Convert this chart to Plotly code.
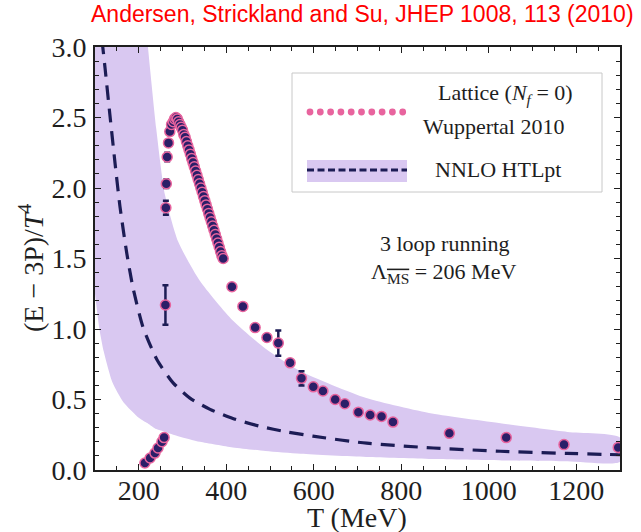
import plotly.graph_objects as go

# ---------------- data ----------------
# NNLO HTLpt band (upper / lower edges) and central dashed curve
band_T = [100, 110, 120, 140, 165, 200, 215, 221, 240, 260, 290, 340, 415, 490, 570, 720, 870, 1030, 1180, 1300]
band_hi = [3.8, 3.8, 3.8, 3.8, 3.8, 3.6, 3.2, 3.0, 2.42, 1.95, 1.62, 1.34, 1.06, 0.86, 0.70, 0.51, 0.40, 0.33, 0.27, 0.23]
band_lo = [1.25, 1.0, 0.84, 0.62, 0.48, 0.37, 0.34, 0.33, 0.29, 0.27, 0.24, 0.20, 0.16, 0.135, 0.115, 0.092, 0.078, 0.068, 0.062, 0.058]

central_T = [116, 123, 134, 146, 157, 173, 187, 210, 242, 278, 317, 363, 415, 477, 539, 598, 721, 873, 1026, 1179, 1300]
central_y = [3.05, 2.85, 2.52, 2.17, 1.87, 1.53, 1.29, 1.01, 0.78, 0.62, 0.51, 0.43, 0.365, 0.31, 0.27, 0.24, 0.19, 0.156, 0.133, 0.118, 0.108]

# Lattice (Nf = 0) Wuppertal 2010
lat_T = [214, 226, 237, 244, 253, 258,
         261, 262, 263, 265, 268, 271, 275,
         279, 282, 285, 288, 291, 294, 297, 300, 303, 306, 309, 312, 315, 318, 321,
         324, 327, 330, 333, 336, 339, 342, 345, 348, 351, 354, 357, 360, 363, 366,
         369, 372, 375, 378, 381, 384, 387, 390, 393,
         413, 438, 466, 493, 519, 546, 572, 599, 621, 649, 671, 702, 729, 755, 781,
         910, 1040, 1172, 1296]
lat_y = [0.05, 0.085, 0.12, 0.156, 0.20, 0.23,
         1.17, 1.86, 2.03, 2.22, 2.32, 2.40, 2.45,
         2.47, 2.49, 2.50, 2.49, 2.47, 2.45, 2.43, 2.41, 2.38, 2.36, 2.33, 2.30, 2.27, 2.24, 2.21,
         2.18, 2.15, 2.12, 2.09, 2.06, 2.03, 2.00, 1.97, 1.94, 1.91, 1.88, 1.85, 1.82, 1.79, 1.76,
         1.73, 1.70, 1.67, 1.64, 1.61, 1.58, 1.55, 1.52, 1.50,
         1.30, 1.16, 1.01, 0.94, 0.90, 0.76, 0.65, 0.59, 0.56, 0.50, 0.47, 0.41, 0.39, 0.38, 0.34,
         0.26, 0.23, 0.18, 0.16]
lat_err = [0.01, 0.01, 0.01, 0.01, 0.015, 0.02,
           0.14, 0.05, 0.03, 0.03, 0.02, 0.02, 0.02,
           0.02, 0.02, 0.02, 0.02, 0.02, 0.02, 0.02, 0.02, 0.02, 0.02, 0.02, 0.02, 0.02, 0.02, 0.02,
           0.02, 0.02, 0.02, 0.02, 0.02, 0.02, 0.02, 0.02, 0.02, 0.02, 0.02, 0.02, 0.02, 0.02, 0.02,
           0.02, 0.02, 0.02, 0.02, 0.02, 0.02, 0.02, 0.02, 0.02,
           0.02, 0.02, 0.02, 0.02, 0.09, 0.02, 0.05, 0.01, 0.01, 0.01, 0.01, 0.01, 0.01, 0.01, 0.01,
           0.01, 0.01, 0.01, 0.01]

x_ticks = [200, 400, 600, 800, 1000, 1200]
y_ticks = [0.0, 0.5, 1.0, 1.5, 2.0, 2.5, 3.0]

# ---------------- styles ----------------
BAND = "rgb(217,200,241)"
NAVY = "#1c1c55"
PINK = "#e8649e"
INK = "#1e1e1e"
SERIF = "Liberation Serif, Times New Roman, serif"

fig = go.Figure()

fig.add_trace(go.Scatter(
    x=band_T + band_T[::-1], y=band_hi + band_lo[::-1],
    fill="toself", fillcolor=BAND, line=dict(width=0, shape="spline", smoothing=0.6),
    mode="lines", hoverinfo="skip", showlegend=False))

fig.add_trace(go.Scatter(
    x=central_T, y=central_y, mode="lines",
    line=dict(color=NAVY, width=3.2, dash="14px,9px", shape="spline", smoothing=0.6),
    showlegend=False))

fig.add_trace(go.Scatter(
    x=lat_T, y=lat_y, mode="markers",
    marker=dict(size=10, color="#2b1f68", line=dict(color=PINK, width=1.5)),
    error_y=dict(type="data", array=lat_err, color=NAVY, thickness=2.5, width=3),
    showlegend=False))

# ---------------- layout ----------------
L, R, T, B = 95, 21, 47, 62
W, H = 641, 532
pw, ph = W - L - R, H - T - B


def px(x):
    return (x - L) / pw


def py(y):
    return (H - B - y) / ph


shapes = []
# legend frame
shapes.append(dict(type="rect", xref="paper", yref="paper",
                   x0=px(292), x1=px(602), y0=py(192), y1=py(73),
                   line=dict(color="#c8c8c8", width=1), fillcolor="white"))
# lattice legend sample: row of dots
for i in range(10):
    cx = 310 + i * 10.3
    r = 3.4
    shapes.append(dict(type="circle", xref="paper", yref="paper",
                       x0=px(cx - r), x1=px(cx + r), y0=py(112 + r), y1=py(112 - r),
                       line=dict(width=0), fillcolor=PINK))
# HTLpt legend sample
shapes.append(dict(type="rect", xref="paper", yref="paper",
                   x0=px(307), x1=px(407), y0=py(182), y1=py(160),
                   line=dict(width=0), fillcolor=BAND))
shapes.append(dict(type="line", xref="paper", yref="paper",
                   x0=px(307), x1=px(407), y0=py(170), y1=py(170),
                   line=dict(color=NAVY, width=3, dash="7px,3.5px")))

TXT = dict(family=SERIF, size=22, color=INK)
ann = []
ann.append(dict(text="Andersen, Strickland and Su, JHEP 1008, 113 (2010)",
                xref="paper", yref="paper", x=px(362), y=py(14), showarrow=False,
                font=dict(family="Liberation Sans, Arial, sans-serif", size=23, color="#ff0000"),
                xanchor="center", yanchor="middle"))
ann.append(dict(text="Lattice (<i>N<sub>f</sub></i> = 0)", xref="paper", yref="paper",
                x=px(505), y=py(94), showarrow=False, xanchor="center", yanchor="middle", font=TXT))
ann.append(dict(text="Wuppertal 2010", xref="paper", yref="paper",
                x=px(493), y=py(126), showarrow=False, xanchor="center", yanchor="middle", font=TXT))
ann.append(dict(text="NNLO HTLpt", xref="paper", yref="paper",
                x=px(498), y=py(169), showarrow=False, xanchor="center", yanchor="middle", font=TXT))
ann.append(dict(text="3 loop running", xref="paper", yref="paper",
                x=px(445), y=py(243), showarrow=False, xanchor="center", yanchor="middle", font=TXT))
ann.append(dict(text="\u039b<sub><span style='text-decoration:overline'>MS</span></sub> = 206 MeV",
                xref="paper", yref="paper",
                x=px(443), y=py(273), showarrow=False, xanchor="center", yanchor="middle", font=TXT))
# axis titles
ann.append(dict(text="T (MeV)", xref="paper", yref="paper", x=px(357), y=py(517),
                showarrow=False, xanchor="center", yanchor="middle",
                font=dict(family=SERIF, size=28, color=INK)))
ann.append(dict(text="(E \u2212 3P)/<i>T</i><sup>4</sup>", xref="paper", yref="paper",
                x=px(31), y=py(268), textangle=-90,
                showarrow=False, xanchor="center", yanchor="middle",
                font=dict(family=SERIF, size=28, color=INK)))

axis_common = dict(showline=True, linecolor=INK, linewidth=1.8, mirror="allticks",
                   ticks="inside", ticklen=6, tickwidth=1.3, tickcolor=INK,
                   showgrid=False, zeroline=False,
                   tickfont=dict(family=SERIF, size=28, color=INK))

fig.update_layout(
    width=W, height=H, margin=dict(l=L, r=R, t=T, b=B),
    paper_bgcolor="white", plot_bgcolor="white",
    shapes=shapes, annotations=ann, showlegend=False,
    xaxis=dict(range=[100, 1300], tickvals=x_ticks, ticktext=[str(v) for v in x_ticks],
               minor=dict(dtick=50, tick0=0, ticks="inside", ticklen=4, tickcolor=INK),
               ticklabelstandoff=-6, **axis_common),
    yaxis=dict(range=[0, 3.0], tickvals=y_ticks, ticktext=[f"{v:.1f}" for v in y_ticks],
               minor=dict(dtick=0.1, tick0=0, ticks="inside", ticklen=4, tickcolor=INK),
               ticklabelstandoff=1, **axis_common),
)

fig.write_html("out.html")
